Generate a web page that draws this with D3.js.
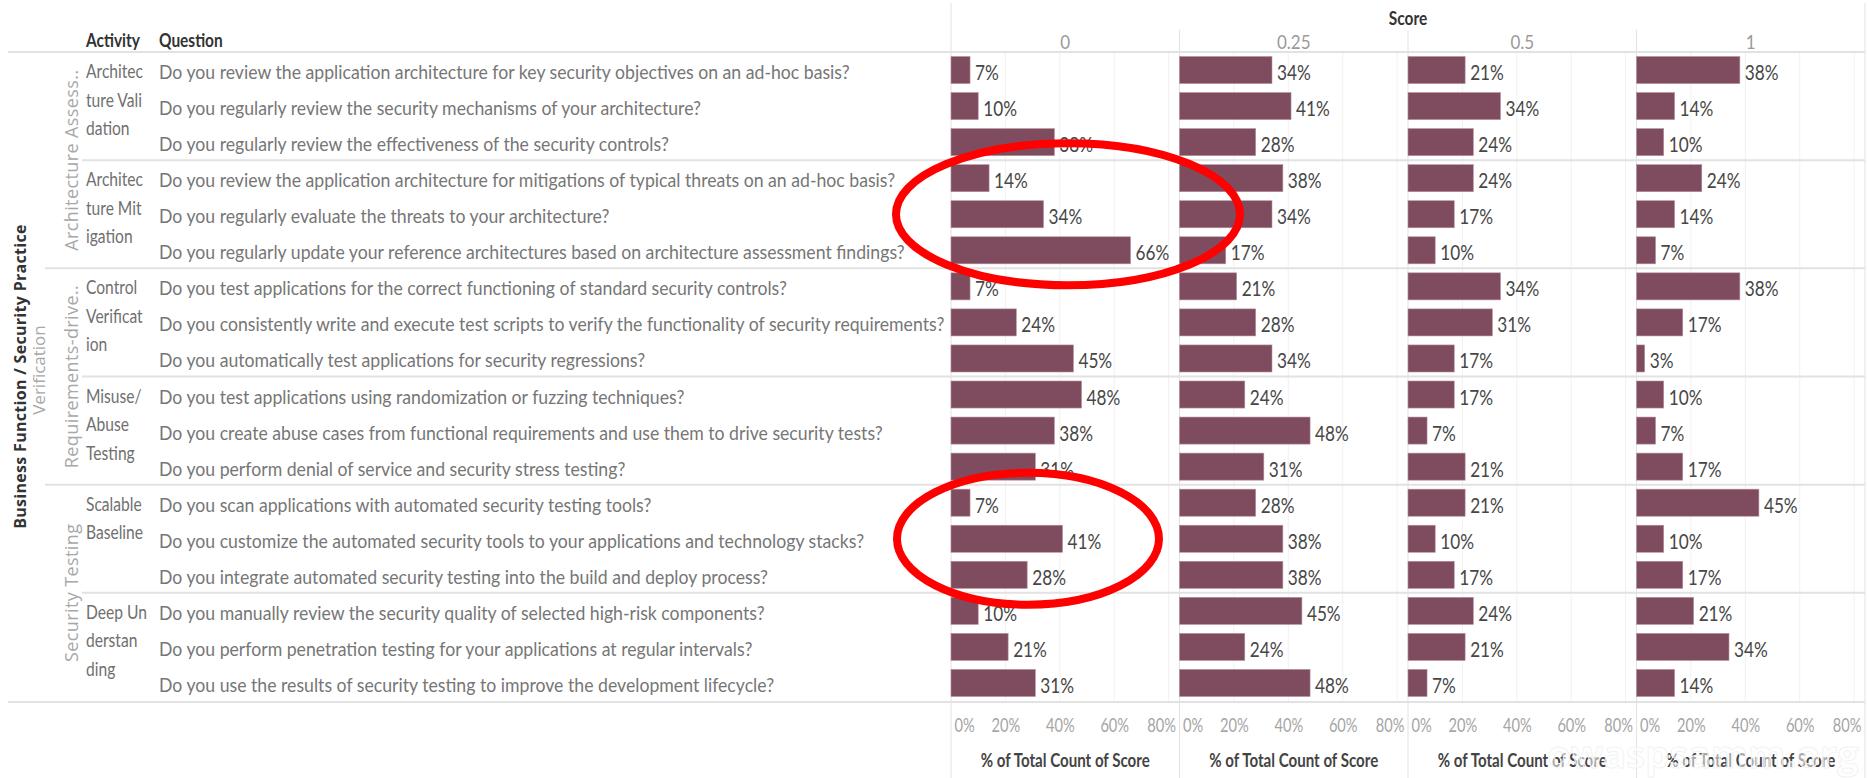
<!DOCTYPE html>
<html>
<head>
<meta charset="utf-8">
<script src="https://cdn.jsdelivr.net/npm/d3@7"></script>
<style>
  body { margin: 0; background: #fff; }
  svg { display: block; }
</style>
</head>
<body>
<svg id="chart" width="1869" height="778"></svg>
<script>

// ---- data ----
var scores = ["0", "0.25", "0.5", "1"]

var practices = ["Architecture Assess..", "Requirements-drive..", "Security Testing"]

var activities = [
	["Architec", "ture Vali", "dation"],
	["Architec", "ture Mit", "igation"],
	["Control", "Verificat", "ion"],
	["Misuse/", "Abuse", "Testing"],
	["Scalable", "Baseline"],
	["Deep Un", "derstan", "ding"]
]
var activityPractice = [0, 0, 1, 1, 2, 2]

var questions = [
	"Do you review the application architecture for key security objectives on an ad-hoc basis?",
	"Do you regularly review the security mechanisms of your architecture?",
	"Do you regularly review the effectiveness of the security controls?",
	"Do you review the application architecture for mitigations of typical threats on an ad-hoc basis?",
	"Do you regularly evaluate the threats to your architecture?",
	"Do you regularly update your reference architectures based on architecture assessment findings?",
	"Do you test applications for the correct functioning of standard security controls?",
	"Do you consistently write and execute test scripts to verify the functionality of security requirements?",
	"Do you automatically test applications for security regressions?",
	"Do you test applications using randomization or fuzzing techniques?",
	"Do you create abuse cases from functional requirements and use them to drive security tests?",
	"Do you perform denial of service and security stress testing?",
	"Do you scan applications with automated security testing tools?",
	"Do you customize the automated security tools to your applications and technology stacks?",
	"Do you integrate automated security testing into the build and deploy process?",
	"Do you manually review the security quality of selected high-risk components?",
	"Do you perform penetration testing for your applications at regular intervals?",
	"Do you use the results of security testing to improve the development lifecycle?"
]
var questionActivity = [0,0,0, 1,1,1, 2,2,2, 3,3,3, 4,4,4, 5,5,5]

// % of total count of score, per score column
var score0   = [7, 10, 38, 14, 34, 66, 7, 24, 45, 48, 38, 31, 7, 41, 28, 10, 21, 31]
var score025 = [34, 41, 28, 38, 34, 17, 21, 28, 34, 24, 48, 31, 28, 38, 38, 45, 24, 48]
var score05  = [21, 34, 24, 24, 17, 10, 34, 31, 17, 17, 7, 21, 21, 10, 17, 24, 21, 7]
var score1   = [38, 14, 10, 24, 14, 7, 38, 17, 3, 10, 7, 17, 45, 10, 17, 21, 34, 14]

var axisTicks = [0, 0.2, 0.4, 0.6, 0.8]

// the two red rings drawn on the picture: rows and centre share on the "0" column
var highlights = [
	{ from: 3, to: 5, share: 0.43, rx: 172, ry: 71 },
	{ from: 12, to: 14, share: 0.283, rx: 131, ry: 66 }
]

// ---- layout ----
var width = 1869, height = 778
var tableTop = 52, tableBottom = 701
var barColor = "#7f4c5f"
var lineColor = "#e2e2e2"
var font = "Lato, 'Open Sans', sans-serif"

var svg = d3.select("#chart")

var series = [score0, score025, score05, score1]
var cells = []
series.forEach(function(vals, si) {
	vals.forEach(function(v, qi) {
		cells.push({ score: scores[si], q: qi, v: v })
	})
})

var y = d3.scaleBand()
	.domain(d3.range(questions.length))
	.range([tableTop, tableBottom])
	.paddingInner(0.25)
	.paddingOuter(0.125)

var step = y.step()
var rowMid = function(i) { return y(i) + y.bandwidth() / 2 }

var panel = d3.scaleBand()
	.domain(scores)
	.range([951, 1865])

var xv = d3.scaleLinear()
	.domain([0, 0.84])
	.range([0, panel.bandwidth()])

// condensed look of the Tableau font
function squeeze(sel, k) {
	sel.each(function() {
		var t = d3.select(this)
		var x = +t.attr("x") || 0, yy = +t.attr("y") || 0
		t.attr("x", null).attr("y", null)
			.attr("transform", "translate(" + x + "," + yy + ") scale(" + k + ",1)")
	})
}

var grid = svg.append("g")
var lines = svg.append("g")

// gridlines in each panel
scores.forEach(function(s) {
	grid.selectAll(null)
		.data(axisTicks.slice(1))
		.join("line")
		.attr("x1", d => panel(s) + xv(d))
		.attr("x2", d => panel(s) + xv(d))
		.attr("y1", tableTop)
		.attr("y2", tableBottom)
		.attr("stroke", "#f1f1f1")
		.attr("stroke-width", 1)
})

// header line + bottom line
lines.append("line")
	.attr("x1", 8).attr("x2", 1865).attr("y1", tableTop).attr("y2", tableTop)
	.attr("stroke", lineColor).attr("stroke-width", 2)
lines.append("line")
	.attr("x1", 8).attr("x2", 1865).attr("y1", tableBottom + 1).attr("y2", tableBottom + 1)
	.attr("stroke", lineColor).attr("stroke-width", 2)

// activity / practice separators
activities.forEach(function(a, ai) {
	if (ai === 0) return
	var first = questionActivity.indexOf(ai)
	var yy = y(first) - y.paddingInner() * step / 2
	var newPractice = activityPractice[ai] !== activityPractice[ai - 1]
	lines.append("line")
		.attr("x1", newPractice ? 45 : 82).attr("x2", 1865)
		.attr("y1", yy).attr("y2", yy)
		.attr("stroke", lineColor).attr("stroke-width", 2)
})

// panel separators
scores.forEach(function(s, i) {
	lines.append("line")
		.attr("x1", panel(s)).attr("x2", panel(s))
		.attr("y1", i === 0 ? 3 : 30).attr("y2", height)
		.attr("stroke", lineColor).attr("stroke-width", 1)
})
lines.append("line")
	.attr("x1", 1865).attr("x2", 1865).attr("y1", 3).attr("y2", height)
	.attr("stroke", lineColor).attr("stroke-width", 1)

// ---- headers ----
var head = svg.append("g").attr("font-family", font)

head.append("text")
	.attr("x", 86).attr("y", 47)
	.attr("font-size", 18).attr("font-weight", 700).attr("fill", "#333")
	.text("Activity")
	.call(squeeze, 0.86)
head.append("text")
	.attr("x", 159).attr("y", 47)
	.attr("font-size", 18).attr("font-weight", 700).attr("fill", "#333")
	.text("Question")
	.call(squeeze, 0.86)

head.append("text")
	.attr("x", (panel.range()[0] + panel.range()[1]) / 2).attr("y", 25)
	.attr("text-anchor", "middle")
	.attr("font-size", 18).attr("font-weight", 700).attr("fill", "#333")
	.text("Score")
	.call(squeeze, 0.86)

head.selectAll(".scoreHead")
	.data(scores)
	.join("text")
	.attr("class", "scoreHead")
	.attr("x", d => panel(d) + panel.bandwidth() / 2)
	.attr("y", 49)
	.attr("text-anchor", "middle")
	.attr("font-size", 20).attr("fill", "#9a9a9a")
	.text(d => d)
	.call(squeeze, 0.85)

// rotated row headers
var rot = svg.append("g").attr("font-family", "'Open Sans', sans-serif")

rot.append("text")
	.attr("transform", "translate(26," + (tableTop + tableBottom) / 2 + ") rotate(-90)")
	.attr("text-anchor", "middle")
	.attr("font-size", 16).attr("font-weight", 700).attr("fill", "#333")
	.attr("letter-spacing", 0.3)
	.text("Business Function / Security Practice")

rot.append("text")
	.attr("transform", "translate(45,370) rotate(-90)")
	.attr("text-anchor", "middle")
	.attr("font-size", 17).attr("fill", "#a8a8a8")
	.text("Verification")

practices.forEach(function(p, pi) {
	var qs = d3.range(questions.length).filter(q => activityPractice[questionActivity[q]] === pi)
	var y0 = y(qs[0]) - y.paddingInner() * step / 2
	var y1 = y(qs[qs.length - 1]) + y.bandwidth() + y.paddingInner() * step / 2
	rot.append("text")
		.attr("transform", "translate(78," + (y0 + y1) / 2 + ") rotate(-90)")
		.attr("text-anchor", "middle")
		.attr("font-size", 18).attr("fill", "#a8a8a8")
		.attr("letter-spacing", 0.4)
		.text(p)
})

// activity labels
var act = svg.append("g").attr("font-family", font).attr("font-size", 20).attr("fill", "#707070")
activities.forEach(function(a, ai) {
	var first = questionActivity.indexOf(ai)
	var top = y(first) - y.paddingInner() * step / 2
	act.selectAll(null)
		.data(a)
		.join("text")
		.attr("x", 86)
		.attr("y", (d, i) => top + 26 + i * 28.5)
		.text(d => d)
		.call(squeeze, 0.78)
})

// questions (the longest one reaches the bar column)
var qg = svg.append("g").attr("font-family", font).attr("font-size", 18.5).attr("fill", "#767676")
var qText = qg.selectAll("text")
	.data(questions)
	.join("text")
	.attr("x", 159)
	.attr("y", (d, i) => rowMid(i) + 9)
	.text(d => d)
var widest = d3.max(qText.nodes(), n => n.getComputedTextLength())
qText.call(squeeze, 786 / widest)

// ---- bars ----
var bars = svg.append("g")
bars.selectAll("rect")
	.data(cells)
	.join("rect")
	.attr("x", d => panel(d.score))
	.attr("y", d => y(d.q))
	.attr("width", d => xv(d.v / 100))
	.attr("height", y.bandwidth())
	.attr("fill", barColor)
	.attr("stroke", "#b48f9d")
	.attr("stroke-width", 0.6)

var labels = svg.append("g").attr("font-family", font).attr("font-size", 21).attr("fill", "#474747")
labels.selectAll("text")
	.data(cells)
	.join("text")
	.attr("x", d => panel(d.score) + xv(d.v / 100) + 5)
	.attr("y", d => rowMid(d.q) + 10)
	.text(d => d.v + "%")
	.call(squeeze, 0.82)

// ---- axes ----
scores.forEach(function(s) {
	var g = svg.append("g")
		.attr("transform", "translate(" + panel(s) + "," + (tableBottom + 1) + ")")
		.call(d3.axisBottom(xv).tickValues(axisTicks).tickFormat(d3.format(".0%")).tickSize(0))
	g.select(".domain").remove()
	g.selectAll("text")
		.attr("font-family", font)
		.attr("font-size", 19)
		.attr("fill", "#a5a5a5")
		.attr("dy", 0)
		.attr("y", 30)
		.attr("text-anchor", (d, i) => i === 0 ? "start" : i === axisTicks.length - 1 ? "end" : "middle")
		.attr("x", (d, i) => i === 0 ? 3 : i === axisTicks.length - 1 ? panel.bandwidth() - xv(d) - 4 : 0)
		.call(squeeze, 0.77)

	svg.append("text")
		.attr("x", panel(s) + panel.bandwidth() / 2)
		.attr("y", 767)
		.attr("text-anchor", "middle")
		.attr("font-family", font).attr("font-size", 18).attr("font-weight", 700)
		.attr("fill", "#444")
		.text("% of Total Count of Score")
		.call(squeeze, 0.84)
})

// faint watermark
svg.append("text")
	.attr("x", 1703).attr("y", 768)
	.attr("text-anchor", "middle")
	.attr("font-family", "'Open Sans', sans-serif").attr("font-size", 38).attr("font-weight", 700)
	.attr("fill", "#fff").attr("fill-opacity", 0.55)
	.attr("stroke", "#f3f3f3").attr("stroke-width", 1)
	.text("owaspsamm.org")

// red rings
svg.append("g")
	.selectAll("ellipse")
	.data(highlights)
	.join("ellipse")
	.attr("cx", d => panel("0") + xv(d.share))
	.attr("cy", d => (y(d.from) + y(d.to) + y.bandwidth()) / 2)
	.attr("rx", d => d.rx)
	.attr("ry", d => d.ry)
	.attr("fill", "none")
	.attr("stroke", "#ff0000")
	.attr("stroke-width", 8)

</script>
</body>
</html>
